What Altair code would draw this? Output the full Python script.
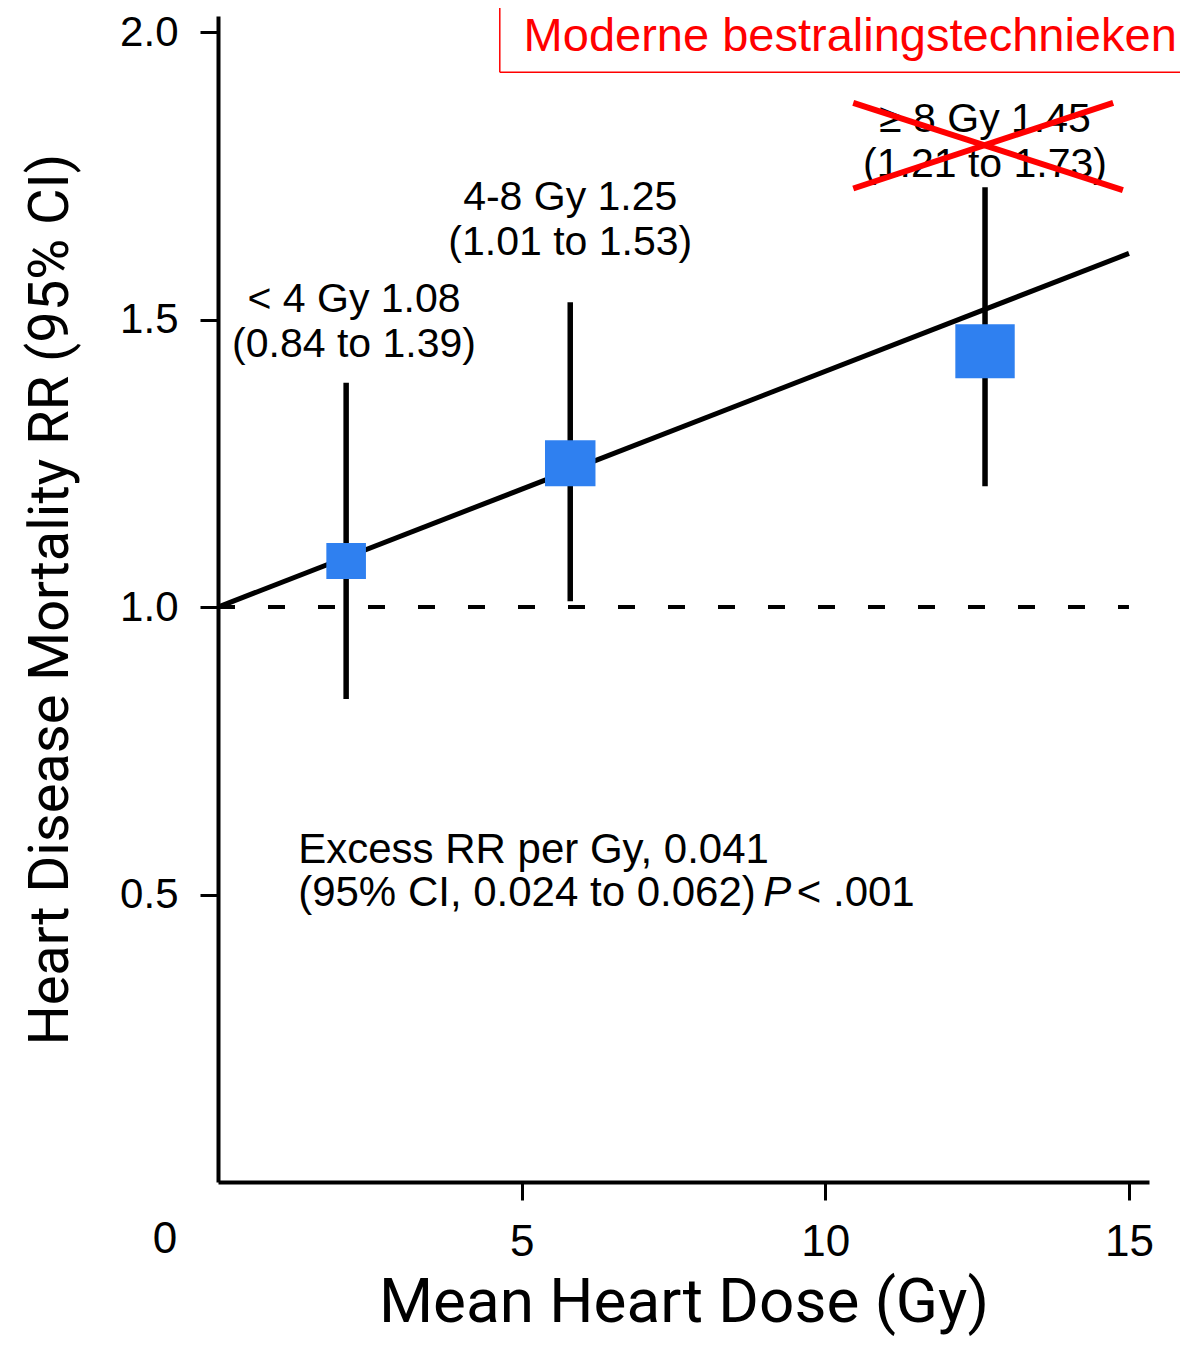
import altair as alt
import pandas as pd

# ---- data ----
dose_groups = ["< 4 Gy", "4-8 Gy", "≥ 8 Gy"]
mean_dose = [2.11, 5.80, 12.63]
rr = [1.08, 1.25, 1.445]
ci_low = [0.84, 1.01, 1.21]
ci_high = [1.39, 1.53, 1.73]
group_rank = [1, 2, 3]

label_text = ["< 4 Gy 1.08\n(0.84 to 1.39)",
              "4-8 Gy 1.25\n(1.01 to 1.53)",
              "≥ 8 Gy 1.45\n(1.21 to 1.73)"]
label_x = [2.24, 5.80, 12.63]
label_y = [1.534, 1.711, 1.847]

fit_x = [0, 15]
fit_y = [1.0, 1.615]
ref_x = [0, 15]
ref_y = [1.0, 1.0]

x_ticks = [5, 10, 15]
y_ticks = [0.5, 1.0, 1.5, 2.0]

note_line1 = "Excess RR per Gy, 0.041"
note_line2 = "(95% CI, 0.024 to 0.062)"
note_x = 1.32
note_y = [0.577, 0.503]
p_x = [8.98, 9.53]

banner_text = "Moderne bestralingstechnieken"
banner_left_x = 4.64
banner_bottom_y = 1.930
banner_far_x = 15.95
banner_far_y = 2.08
banner_text_pos = [10.41, 1.991]

cross_x1 = [10.46, 10.46]
cross_x2 = [14.90, 14.74]
cross_y1 = [1.877, 1.728]
cross_y2 = [1.725, 1.877]

X_DOMAIN = [0, 15.33]
Y_DOMAIN = [0, 2.028]

LABEL_FONT = "Liberation Sans"
TITLE_FONT = "Roboto"

pts = pd.DataFrame({"group": dose_groups, "dose": mean_dose, "rr": rr,
                    "lo": ci_low, "hi": ci_high, "rank": group_rank})
labels = pd.DataFrame({"text": label_text, "x": label_x, "y": label_y})
fit = pd.DataFrame({"x": fit_x, "y": fit_y})
ref = pd.DataFrame({"x": ref_x, "y": ref_y})
cross = pd.DataFrame({"x": cross_x1, "x2": cross_x2, "y": cross_y1, "y2": cross_y2})
box_edges = pd.DataFrame({
    "x": [banner_left_x, banner_left_x],
    "x2": [banner_left_x, banner_far_x],
    "y": [banner_bottom_y, banner_bottom_y],
    "y2": [banner_far_y, banner_bottom_y],
})

xscale = alt.Scale(domain=X_DOMAIN, nice=False, zero=False)
yscale = alt.Scale(domain=Y_DOMAIN, nice=False, zero=False)

xaxis = alt.Axis(values=x_ticks, title="Mean Heart Dose (Gy)", labelFont=LABEL_FONT,
                 labelFontSize=44, labelPadding=20, titleFont=TITLE_FONT,
                 titleFontSize=62, titlePadding=8, tickSize=18, format="d")
yaxis = alt.Axis(values=y_ticks, title="Heart Disease Mortality RR (95% CI)",
                 labelFont=LABEL_FONT, labelFontSize=42, labelPadding=22,
                 titleFont=TITLE_FONT, titleFontSize=56, titlePadding=40,
                 tickSize=18, format=".1f")

ref_line = alt.Chart(ref).mark_line(color="black", strokeWidth=4, strokeDash=[17, 33]).encode(
    x=alt.X("x:Q", scale=xscale, axis=xaxis),
    y=alt.Y("y:Q", scale=yscale, axis=yaxis),
)

fit_line = alt.Chart(fit).mark_line(color="black", strokeWidth=5).encode(
    x="x:Q", y="y:Q")

bars = alt.Chart(pts).mark_rule(color="black", strokeWidth=5.5).encode(
    x="dose:Q", y="lo:Q", y2="hi:Q")

squares = alt.Chart(pts).mark_point(
    shape="M-1.1,-1H1.1V1H-1.1Z", filled=True, color="#2f80f0", opacity=1, strokeWidth=0
).encode(
    x="dose:Q", y="rr:Q",
    size=alt.Size("rank:Q", scale=alt.Scale(domain=[1, 3], range=[1296, 2916], zero=False),
                  legend=None),
)

ann = alt.Chart(labels).mark_text(
    font=LABEL_FONT, fontSize=41, lineBreak="\n", lineHeight=45,
    align="center", baseline="middle", color="black"
).encode(x="x:Q", y="y:Q", text="text:N")

def note(t, x, y, italic=False):
    kw = dict(font=LABEL_FONT, fontSize=42, align="left", baseline="middle", color="black")
    if italic:
        kw["fontStyle"] = "italic"
    return alt.Chart(pd.DataFrame({"t": [t], "x": [x], "y": [y]})).mark_text(**kw).encode(
        x="x:Q", y="y:Q", text="t:N")

note1 = note(note_line1, note_x, note_y[0])
note2 = note(note_line2, note_x, note_y[1])
note_p = note("P", p_x[0], note_y[1], italic=True)
note_pv = note("< .001", p_x[1], note_y[1])

zero_lbl = alt.Chart(pd.DataFrame({"t": ["0"], "x": [0], "y": [0]})).mark_text(
    font=LABEL_FONT, fontSize=44, align="center", baseline="middle", color="black",
    dx=-53, dy=58
).encode(x="x:Q", y="y:Q", text="t:N")

box = alt.Chart(box_edges).mark_rule(color="#ff0000", strokeWidth=1.5).encode(
    x="x:Q", x2="x2:Q", y="y:Q", y2="y2:Q")

banner = alt.Chart(pd.DataFrame({"t": [banner_text], "x": [banner_text_pos[0]],
                                 "y": [banner_text_pos[1]]})).mark_text(
    font="Liberation Sans", fontSize=47, align="center", baseline="middle", color="#ff0000"
).encode(x="x:Q", y="y:Q", text="t:N")

cross_rules = alt.Chart(cross).mark_rule(color="#ff0000", strokeWidth=6).encode(
    x="x:Q", x2="x2:Q", y="y:Q", y2="y2:Q")

chart = alt.layer(
    ref_line, fit_line, bars, squares, ann, note1, note2, note_p, note_pv,
    zero_lbl, box, banner, cross_rules
).properties(
    width=931, height=1166,
    autosize=alt.AutoSizeParams(type="none"),
    padding={"left": 210, "top": 8, "right": 31, "bottom": 155},
    background="white",
).configure_view(stroke=None).configure_axis(
    grid=False, domainColor="black", domainWidth=4, tickColor="black", tickWidth=3,
    labelColor="black", titleColor="black", titleFontWeight="normal",
)

chart.save("out.html", embed_options={"renderer": "svg", "actions": False})
